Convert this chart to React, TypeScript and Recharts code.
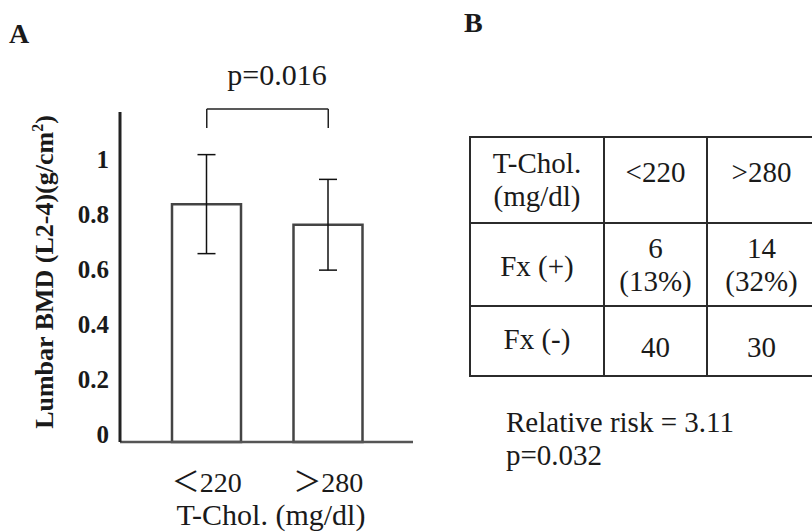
import React from "react";
import { BarChart, Bar, XAxis, YAxis, ErrorBar, ReferenceLine } from "recharts";

// ─── Data ────────────────────────────────────────────────────────────────────

const categories = ["＜220", "＞280"];
const bmdMean = [0.865, 0.79];
const bmdSd = [0.18, 0.165];
const yTicks = [0, 0.2, 0.4, 0.6, 0.8, 1];

// bracket between the two groups (BMD units)
const bracketTop = 1.211;
const bracketFoot = 1.142;

const tableGroups = ["<220", ">280"];
const fxPositive = [6, 14];
const fxPositivePct = ["13%", "32%"];
const fxNegative = [40, 30];

const SERIF = "Liberation Serif, Times New Roman, Times, serif";
// the axis categories use full-width brackets, so let them fall back to the CJK face
const SERIF_CJK = "Liberation Serif, Noto Sans CJK JP, serif";

const rows = categories.map((group, i) => ({
  group,
  mean: bmdMean[i],
  sd: bmdSd[i],
}));

// ─── Ticks ───────────────────────────────────────────────────────────────────

function YTick(props: any) {
  const { x, y, payload } = props;
  return (
    <text
      x={x - 11}
      y={y - 8}
      textAnchor="end"
      dominantBaseline="central"
      style={{ fontFamily: SERIF, fontWeight: "bold", fontSize: 25 }}
      fill="#1a1a1a"
    >
      {payload.value}
    </text>
  );
}

function XTick(props: any) {
  const { x, y, payload } = props;
  return (
    <text x={x} y={y + 50} textAnchor="middle" style={{ fontFamily: SERIF_CJK, fontSize: 28 }} fill="#1a1a1a">
      {payload.value}
    </text>
  );
}

// ─── Table cell ──────────────────────────────────────────────────────────────

const cellStyle: React.CSSProperties = {
  border: "2.5px solid #2b2b2b",
  padding: 0,
  textAlign: "center",
  verticalAlign: "middle",
  lineHeight: "33px",
};

const txt = (size: number, bold = false): React.CSSProperties => ({
  fontFamily: SERIF,
  fontSize: size,
  fontWeight: bold ? "bold" : "normal",
});

export default function App() {
  return (
    <div
      style={{
        position: "absolute",
        left: 0,
        top: 0,
        width: 812,
        height: 532,
        overflow: "hidden",
        background: "#fff",
        fontFamily: SERIF,
        color: "#1a1a1a",
      }}
    >
      {/* Panel A */}
      <div style={{ position: "absolute", left: 0, top: 0 }}>
        <BarChart
          width={430}
          height={532}
          data={rows}
          margin={{ top: 112, right: 17, bottom: 30, left: 0 }}
        >
          <XAxis
            dataKey="group"
            height={60}
            padding={{ left: 26, right: 24 }}
            axisLine={{ stroke: "#555", strokeWidth: 2.5 }}
            tickLine={false}
            tickSize={0}
            tickMargin={0}
            tick={XTick}
          />
          <YAxis
            width={120}
            domain={[0, 1.2]}
            ticks={yTicks}
            axisLine={{ stroke: "#222", strokeWidth: 3 }}
            tickLine={false}
            tickSize={0}
            tickMargin={0}
            tick={YTick}
          />
          <Bar
            dataKey="mean"
            fill="#fff"
            stroke="#444"
            strokeWidth={2.5}
            barSize={69}
            isAnimationActive={false}
          >
            <ErrorBar
              dataKey="sd"
              direction="y"
              width={9}
              stroke="#111"
              strokeWidth={1.5}
              isAnimationActive={false}
            />
          </Bar>
          <ReferenceLine
            segment={[
              { x: categories[0], y: bracketTop },
              { x: categories[1], y: bracketTop },
            ]}
            stroke="#222"
            strokeWidth={1.5}
            ifOverflow="visible"
          />
          <ReferenceLine
            segment={[
              { x: categories[0], y: bracketTop },
              { x: categories[0], y: bracketFoot },
            ]}
            stroke="#222"
            strokeWidth={1.5}
            ifOverflow="visible"
          />
          <ReferenceLine
            segment={[
              { x: categories[1], y: bracketTop },
              { x: categories[1], y: bracketFoot },
            ]}
            stroke="#222"
            strokeWidth={1.5}
            ifOverflow="visible"
          />
        </BarChart>
      </div>

      {/* free text for panel A and panel letters */}
      <svg
        width={812}
        height={532}
        style={{ position: "absolute", left: 0, top: 0, pointerEvents: "none" }}
      >
        <text x={9} y={43} style={txt(28, true)} fill="#1a1a1a">
          A
        </text>
        <text x={464} y={32} style={txt(28, true)} fill="#1a1a1a">
          B
        </text>
        <text x={277} y={85} textAnchor="middle" style={txt(30)} fill="#1a1a1a">
          p=0.016
        </text>
        <text
          x={53}
          y={272}
          transform="rotate(-90, 53, 272)"
          textAnchor="middle"
          style={txt(26, true)}
          fill="#1a1a1a"
        >
          Lumbar BMD (L2-4)(g/cm
          <tspan dy={-10} style={{ fontSize: 16 }}>
            2
          </tspan>
          <tspan dy={10}>)</tspan>
        </text>
        <text x={271} y={525} textAnchor="middle" style={txt(30)} fill="#1a1a1a">
          T-Chol. (mg/dl)
        </text>
        <text x={506} y={432} style={txt(29)} fill="#1a1a1a">
          Relative risk = 3.11
        </text>
        <text x={506} y={465} style={txt(29)} fill="#1a1a1a">
          p=0.032
        </text>
      </svg>

      {/* Panel B — the right edge of the table runs off the page */}
      <table
        style={{
          position: "absolute",
          left: 469,
          top: 136,
          width: 360,
          borderCollapse: "collapse",
          tableLayout: "fixed",
          fontSize: 29,
          fontFamily: SERIF,
        }}
      >
        <colgroup>
          <col style={{ width: 134 }} />
          <col style={{ width: 103 }} />
          <col style={{ width: 123 }} />
        </colgroup>
        <tbody>
          <tr style={{ height: 86 }}>
            <td style={cellStyle}>
              T-Chol.
              <br />
              (mg/dl)
            </td>
            {tableGroups.map((g, i) => (
              <td key={g} style={{ ...cellStyle, paddingBottom: 16, paddingRight: i === 1 ? 14 : 0 }}>
                {g}
              </td>
            ))}
          </tr>
          <tr style={{ height: 83 }}>
            <td style={{ ...cellStyle, paddingTop: 4 }}>Fx (+)</td>
            {fxPositive.map((n, i) => (
              <td key={i} style={{ ...cellStyle, paddingRight: i === 1 ? 14 : 0 }}>
                {n}
                <br />({fxPositivePct[i]})
              </td>
            ))}
          </tr>
          <tr style={{ height: 70 }}>
            <td style={{ ...cellStyle, paddingBottom: 4 }}>Fx (-)</td>
            {fxNegative.map((n, i) => (
              <td key={i} style={{ ...cellStyle, paddingTop: 12, paddingRight: i === 1 ? 14 : 0 }}>
                {n}
              </td>
            ))}
          </tr>
        </tbody>
      </table>
    </div>
  );
}
